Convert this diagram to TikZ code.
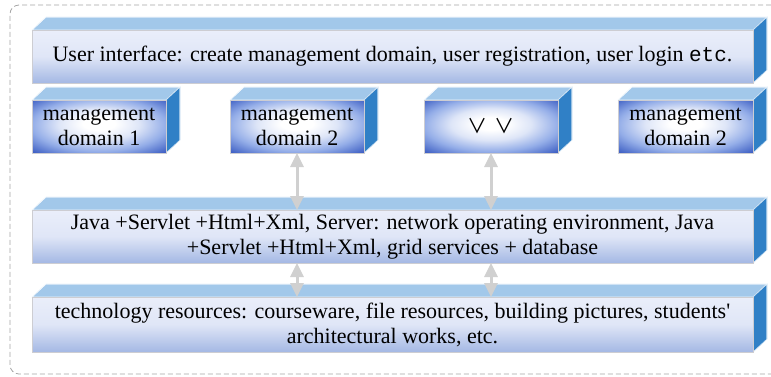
\documentclass[tikz,border=0pt]{standalone}
\usepackage{fontspec}
\setmainfont{Liberation Serif}
\newfontfamily\monof{Liberation Mono}
\newfontfamily\cjk{Noto Sans CJK SC}
\usetikzlibrary{arrows.meta,calc}
\definecolor{topf}{RGB}{162,200,234}
\definecolor{sidef}{RGB}{48,128,198}
\definecolor{frontT}{RGB}{234,238,250}
\definecolor{frontB}{RGB}{164,184,228}
\definecolor{arrowc}{RGB}{208,208,208}
\definecolor{dashc}{RGB}{165,165,165}
\definecolor{edgec}{RGB}{205,205,210}
% TikZ fits the central 50bp square of the shading to the path
\pgfdeclareradialshading{mgmt}{\pgfpoint{0bp}{3bp}}{rgb(0bp)=(1,1,1);rgb(6bp)=(1,1,1);rgb(15bp)=(0.87,0.90,0.97);rgb(25bp)=(0.58,0.68,0.91);rgb(35bp)=(0.25,0.38,0.77);rgb(50bp)=(0.25,0.38,0.77)}
\tikzset{
  longface/.style={top color=frontT, bottom color=frontB, middle color=frontT!85!frontB, draw=edgec, line width=0.6pt},
  mgmtface/.style={shade, shading=mgmt, draw=edgec, line width=0.6pt},
  topface/.style={fill=topf, draw=white!85!topf, line width=0.6pt},
  sideface/.style={fill=sidef, draw=white!80!sidef, line width=0.6pt},
  txt/.style={font=\fontsize{22}{25}\selectfont, align=center, text=black},
  arr/.style={draw=arrowc, line width=3pt, {Triangle[width=13pt,length=14pt]}-{Triangle[width=13pt,length=14pt]}},
}
% name, x1, y1, x2, y2, front style, text
\newcommand\solidbox[7]{%
  \fill[topface] (#2,#3) -- (#4,#3) -- ++(14,-13) -- ({#2+14},{#3-13}) -- cycle;
  \fill[sideface] (#4,#3) -- ++(14,-13) -- ({#4+14},{#5-13}) -- (#4,#5) -- cycle;
  \node[#6, txt, inner sep=0pt, outer sep=0pt, minimum width={(#4-#2)*1pt}, minimum height={(#5-#3)*1pt}]
    (#1) at ({(#2+#4)/2},{(#3+#5)/2}) {#7};
  \draw[topface, fill=none] (#2,#3) -- ({#2+14},{#3-13}) -- ({#4+14},{#3-13}) -- ({#4+14},{#5-13});
}
\begin{document}
\begin{tikzpicture}[x=1pt,y=-1pt]
\useasboundingbox (0,0) rectangle (771,376);
\draw[dashc, line width=0.8pt, dash pattern=on 5pt off 3pt, rounded corners=9pt]
  (771,5) -- (10,5) -- (10,374) -- (771,374);
\solidbox{ui}{32}{30}{753}{83}{longface}{User interface: create management domain, user registration, user login {\monof\fontsize{21}{25}\selectfont etc}.}
\solidbox{md1}{32}{100}{166}{153}{mgmtface}{management\\domain 1}
\solidbox{md2}{230}{100}{364}{153}{mgmtface}{management\\domain 2}
\solidbox{md3}{424}{100}{558}{153}{mgmtface}{{\cjk\fontsize{20}{25}\selectfont ∨\hspace{7pt}∨}}
\solidbox{md4}{618}{100}{753}{153}{mgmtface}{management\\domain 2}
\solidbox{mid}{32}{210}{753}{263}{longface}{Java +Servlet +Html+Xml, Server: network operating environment, Java\\+Servlet +Html+Xml, grid services + database}
\solidbox{bot}{32}{297}{753}{352}{longface}{technology resources: courseware, file resources, building pictures, students\textquotesingle\\architectural works, etc.}
\draw[arr] (md2.south) -- (md2.south |- mid.north);
\draw[arr] (md3.south) -- (md3.south |- mid.north);
\draw[arr] (mid.south -| md2.south) -- (bot.north -| md2.south);
\draw[arr] (mid.south -| md3.south) -- (bot.north -| md3.south);
\end{tikzpicture}
\end{document}
